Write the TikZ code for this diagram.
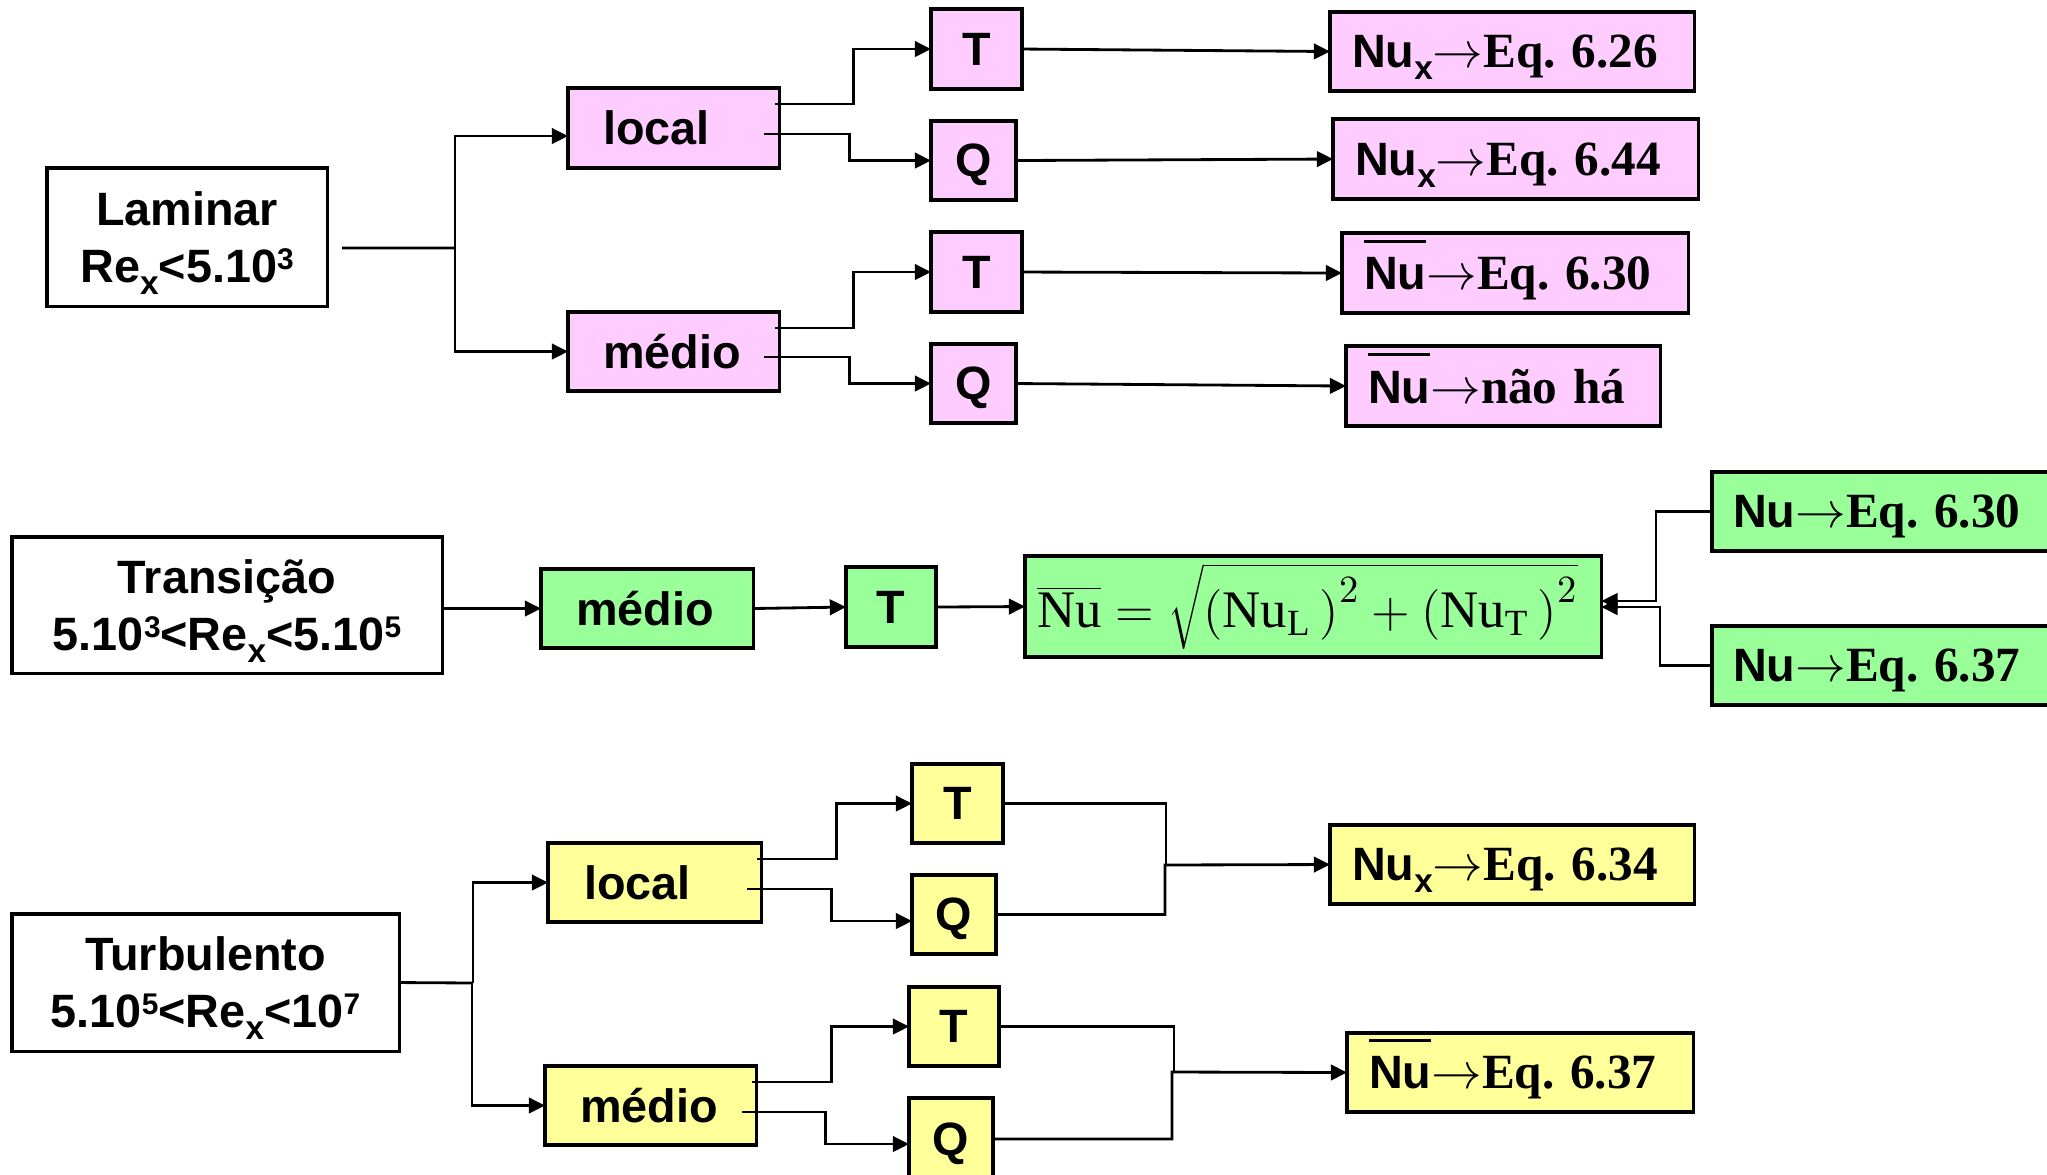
\documentclass[tikz,border=0pt]{standalone}
\usepackage{fontspec}
\setmainfont{Liberation Serif}
\setsansfont{Liberation Sans}
\usetikzlibrary{arrows.meta}
\definecolor{pinkbox}{HTML}{FFCCFF}
\definecolor{greenbox}{HTML}{99FF99}
\definecolor{yellowbox}{HTML}{FFFF99}
\frenchspacing
\newcommand\nubar{\leavevmode\setbox0\hbox{Nu}\rlap{\smash{\raisebox{1.0em}{\rule{\wd0}{0.065em}}}}\box0}
\newcommand\subx{\smash{\raisebox{-0.12cm}{\fontsize{9.5}{10}\selectfont x}}}
\newcommand\supn[1]{\raisebox{0.13cm}{\fontsize{8.5}{10}\selectfont #1}}
\newcommand\arrw{$\rightarrow$}
\newcommand\sfl{\sffamily\bfseries\fontsize{13.3}{16.2}\selectfont}
\newcommand\rfl{\rmfamily\bfseries\fontsize{14}{16}\selectfont}
\tikzset{
  bx/.style={draw=black, line width=0.9pt, anchor=north west, outer sep=0pt, inner ysep=0pt, font=\sfl},
  one/.style={text depth=0pt},
  lft/.style n args={2}{text width=#1, inner xsep=#2, align=left, one},
  ln/.style={line width=0.8pt},
  arr/.style={ln, -{Triangle[length=4.6pt,width=4.4pt]}},
}
\begin{document}
\begin{tikzpicture}[x=0.01cm, y=-0.01cm]
\useasboundingbox[fill=white] (0,0) rectangle (2047,1175);
% ---------- Laminar ----------
\node[bx, minimum width=2.80cm, minimum height=1.38cm, align=center] (lam) at (47,168) {Laminar\\Re\subx<5.10\supn{3}};
\node[bx, fill=pinkbox, minimum height=0.80cm, lft={1.41cm}{0.35cm}] (lL) at (568,88) {local};
\node[bx, fill=pinkbox, minimum height=0.79cm, lft={1.41cm}{0.35cm}] (mL) at (568,312) {médio};
\node[bx, one, fill=pinkbox, minimum width=0.91cm, minimum height=0.80cm] (T1) at (931,9) {T};
\node[bx, one, fill=pinkbox, minimum width=0.85cm, minimum height=0.79cm] (Q1) at (931,121) {Q};
\node[bx, one, fill=pinkbox, minimum width=0.91cm, minimum height=0.80cm] (T2) at (931,232) {T};
\node[bx, one, fill=pinkbox, minimum width=0.85cm, minimum height=0.79cm] (Q2) at (931,344) {Q};
\node[bx, fill=pinkbox, minimum height=0.79cm, lft={3.20cm}{0.22cm}] (R1) at (1330,12) {Nu\subx{\rfl \arrw Eq. 6.26}};
\node[bx, fill=pinkbox, minimum height=0.80cm, lft={3.21cm}{0.22cm}] (R2) at (1333,119) {Nu\subx{\rfl \arrw Eq. 6.44}};
\node[bx, fill=pinkbox, minimum height=0.80cm, lft={3.02cm}{0.22cm}] (R3) at (1342,233) {\nubar{\rfl \arrw Eq. 6.30}};
\node[bx, fill=pinkbox, minimum height=0.80cm, lft={2.70cm}{0.22cm}] (R4) at (1346,346) {\nubar{\rfl \arrw não há}};
\coordinate (jL) at (455,248);
\draw[ln] ([xshift=0.15cm,yshift=-0.11cm]lam.east) -- (jL);
\draw[arr] (jL) |- ([yshift=-0.08cm]lL.west);
\draw[arr] (jL) |- (mL.west);
\draw[arr] ([xshift=-0.04cm,yshift=0.24cm]lL.east) -- ++(78,0) |- (T1.west);
\draw[arr] ([xshift=-0.15cm,yshift=-0.06cm]lL.east) -- ++(85,0) |- (Q1.west);
\draw[arr] ([xshift=-0.04cm,yshift=0.235cm]mL.east) -- ++(78,0) |- (T2.west);
\draw[arr] ([xshift=-0.15cm,yshift=-0.055cm]mL.east) -- ++(85,0) |- (Q2.west);
\draw[arr] (T1.east) -- (R1.west);
\draw[arr] (Q1.east) -- (R2.west);
\draw[arr] (T2.east) -- (R3.west);
\draw[arr] (Q2.east) -- (R4.west);
% ---------- Transicao ----------
\node[bx, minimum width=4.30cm, minimum height=1.36cm, align=center] (tr) at (12,537) {Transição\\5.10\supn{3}<Re\subx<5.10\supn{5}};
\node[bx, fill=greenbox, minimum height=0.79cm, lft={1.42cm}{0.35cm}] (mT) at (541,569) {médio};
\node[bx, one, fill=greenbox, minimum width=0.90cm, minimum height=0.80cm] (TT) at (846,567) {T};
\node[bx, fill=greenbox, minimum height=1.01cm, text width=5.52cm, inner xsep=0.12cm, align=left] (F) at (1025,556) {\rmfamily\mdseries\fontsize{15}{17}\selectfont\mbox{$\overline{\mathrm{Nu}} = \sqrt{\Bigl(\mathrm{Nu}_{\mathrm{L}}\,\Bigr)^{2} + \Bigl(\mathrm{Nu}_{\mathrm{T}}\,\Bigr)^{2}}$}};
\node[bx, fill=greenbox, minimum height=0.79cm, lft={3.08cm}{0.21cm}] (G1) at (1712,472) {Nu{\rfl \arrw Eq. 6.30}};
\node[bx, fill=greenbox, minimum height=0.79cm, lft={3.08cm}{0.21cm}] (G2) at (1712,626) {Nu{\rfl \arrw Eq. 6.37}};
\draw[arr] (mT.west -| tr.east) -- (mT.west);
\draw[arr] (mT.east) -- (TT.west);
\draw[arr] (TT.east) -- (F.west);
\draw[arr] (G1.west) -- ++(-56,0) |- ([yshift=0.055cm]F.east);
\draw[arr] (G2.west) -- ++(-52,0) |- ([yshift=-0.005cm]F.east);
% ---------- Turbulento ----------
\node[bx, minimum width=3.87cm, minimum height=1.37cm, align=center] (tu) at (12,914) {Turbulento\\5.10\supn{5}<Re\subx<10\supn{7}};
\node[bx, fill=yellowbox, minimum height=0.79cm, lft={1.41cm}{0.36cm}] (lT) at (548,843) {local};
\node[bx, fill=yellowbox, minimum height=0.79cm, lft={1.41cm}{0.35cm}] (mT2) at (545,1066) {médio};
\node[bx, one, fill=yellowbox, minimum width=0.91cm, minimum height=0.79cm] (TtL) at (912,764) {T};
\node[bx, one, fill=yellowbox, minimum width=0.84cm, minimum height=0.79cm] (QtL) at (912,875) {Q};
\node[bx, one, fill=yellowbox, minimum width=0.90cm, minimum height=0.79cm] (TtM) at (909,987) {T};
\node[bx, one, fill=yellowbox, minimum width=0.84cm, minimum height=0.82cm] (QtM) at (909,1098) {Q};
\node[bx, fill=yellowbox, minimum height=0.79cm, lft={3.20cm}{0.22cm}] (R5) at (1330,825) {Nu\subx{\rfl \arrw Eq. 6.34}};
\node[bx, fill=yellowbox, minimum height=0.79cm, lft={3.02cm}{0.22cm}] (R6) at (1347,1033) {\nubar{\rfl \arrw Eq. 6.37}};
\coordinate (jT) at (473,983);
\draw[ln] (tu.east) -- (jT);
\draw[arr] (jT) |- (lT.west);
\draw[arr] ([xshift=-0.01cm]jT) |- (mT2.west);
\draw[arr] ([xshift=-0.04cm,yshift=0.235cm]lT.east) -- ++(79,0) |- (TtL.west);
\draw[arr] ([xshift=-0.14cm,yshift=-0.065cm]lT.east) -- ++(84,0) |- ([yshift=-0.065cm]QtL.west);
\draw[arr] ([xshift=-0.04cm,yshift=0.235cm]mT2.east) -- ++(79,0) |- (TtM.west);
\draw[arr] ([xshift=-0.14cm,yshift=-0.065cm]mT2.east) -- ++(83,0) |- ([yshift=-0.05cm]QtM.west);
\coordinate (j5) at (1165,865);
\coordinate (j6) at (1172,1072);
\draw[ln] (TtL.east) -| ([xshift=0.01cm]j5);
\draw[arr] (QtL.east) -| (j5) -- (R5.west);
\draw[ln] (TtM.east) -| ([xshift=0.02cm]j6);
\draw[arr] (QtM.east) -| (j6) -- (R6.west);
\end{tikzpicture}
\end{document}
